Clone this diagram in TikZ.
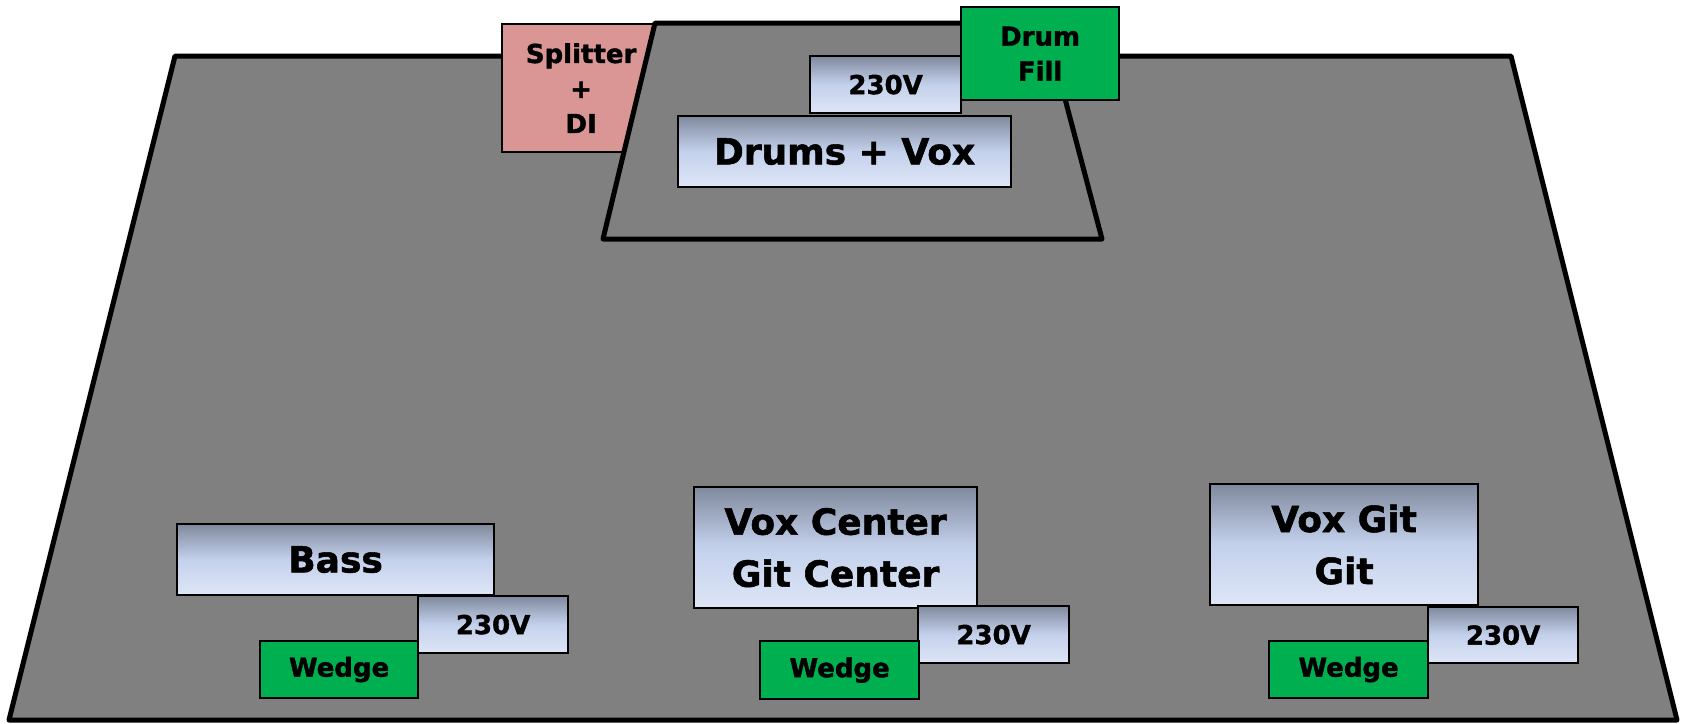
\documentclass[tikz,border=0pt]{standalone}
\usepackage{fontspec}
\setmainfont{DejaVu Sans}[BoldFeatures={FakeBold=1.5}]
\usetikzlibrary{positioning}
\definecolor{stagegray}{RGB}{128,128,128}
\definecolor{splitpink}{RGB}{217,150,148}
\definecolor{fillgreen}{RGB}{0,176,80}
\definecolor{boxtop}{RGB}{128,138,158}
\definecolor{boxmid}{RGB}{196,209,236}
\definecolor{boxbot}{RGB}{222,230,246}
\tikzset{
  outline/.style={draw=black, line width=5pt, line join=round, fill=stagegray},
  gradbox/.style={draw=black, line width=2.2pt, inner sep=0pt, anchor=north west,
    top color=boxtop, bottom color=boxbot, middle color=boxmid,
    font=\bfseries, align=center},
  bigtext/.style={font=\fontsize{36}{52}\selectfont\bfseries},
  smalltext/.style={font=\fontsize{26}{35}\selectfont\bfseries},
  greenbox/.style={draw=black, line width=2.2pt, inner sep=0pt, anchor=north west,
    fill=fillgreen, align=center},
  pinkbox/.style={draw=black, line width=2.2pt, inner sep=0pt, anchor=north west,
    fill=splitpink, align=center},
}
\begin{document}
\begin{tikzpicture}[x=1pt,y=-1pt]
\useasboundingbox (0,0) rectangle (1686,723);
% stage
\draw[outline] (175,56) coordinate (s1) -- (1511,56) coordinate (s2) -- (1677,720) coordinate (s3) -- (9,720) coordinate (s4) -- cycle;
% splitter
\node[pinkbox, smalltext, minimum width=158pt, minimum height=128pt] (split) at (501,23) {Splitter\\+\\DI};
% riser
\draw[outline] (655,23) coordinate (r1) -- (1045,23) coordinate (r2) -- (1102,239) coordinate (r3) -- (603,239) coordinate (r4) -- cycle;
% drum fill
\node[greenbox, smalltext, minimum width=158pt, minimum height=93pt] (fill) at (960,6) {Drum\\Fill};
\node[gradbox, smalltext, minimum width=151pt, minimum height=57pt] (vtop) at (809,55) {230V};
\node[gradbox, bigtext, minimum width=333pt, minimum height=71pt] (drums) at (677,115) {Drums + Vox};
% bass group
\node[gradbox, bigtext, minimum width=317pt, minimum height=71pt] (bass) at (176,523) {Bass};
\node[gradbox, smalltext, minimum width=150pt, minimum height=57pt] (vbass) at (417,595) {230V};
\node[greenbox, smalltext, minimum width=158pt, minimum height=57pt] (wbass) at (259,640) {Wedge};
% center group
\node[gradbox, bigtext, minimum width=283pt, minimum height=121pt] (center) at (693,486) {Vox Center\\Git Center};
\node[gradbox, smalltext, minimum width=151pt, minimum height=57pt] (vcenter) at (917,605) {230V};
\node[greenbox, smalltext, minimum width=159pt, minimum height=58pt] (wcenter) at (759,640) {Wedge};
% right group
\node[gradbox, bigtext, minimum width=268pt, minimum height=121pt] (git) at (1209,483) {Vox Git\\Git};
\node[gradbox, smalltext, minimum width=150pt, minimum height=56pt] (vgit) at (1427,606) {230V};
\node[greenbox, smalltext, minimum width=159pt, minimum height=57pt] (wgit) at (1268,640) {Wedge};
\end{tikzpicture}
\end{document}
